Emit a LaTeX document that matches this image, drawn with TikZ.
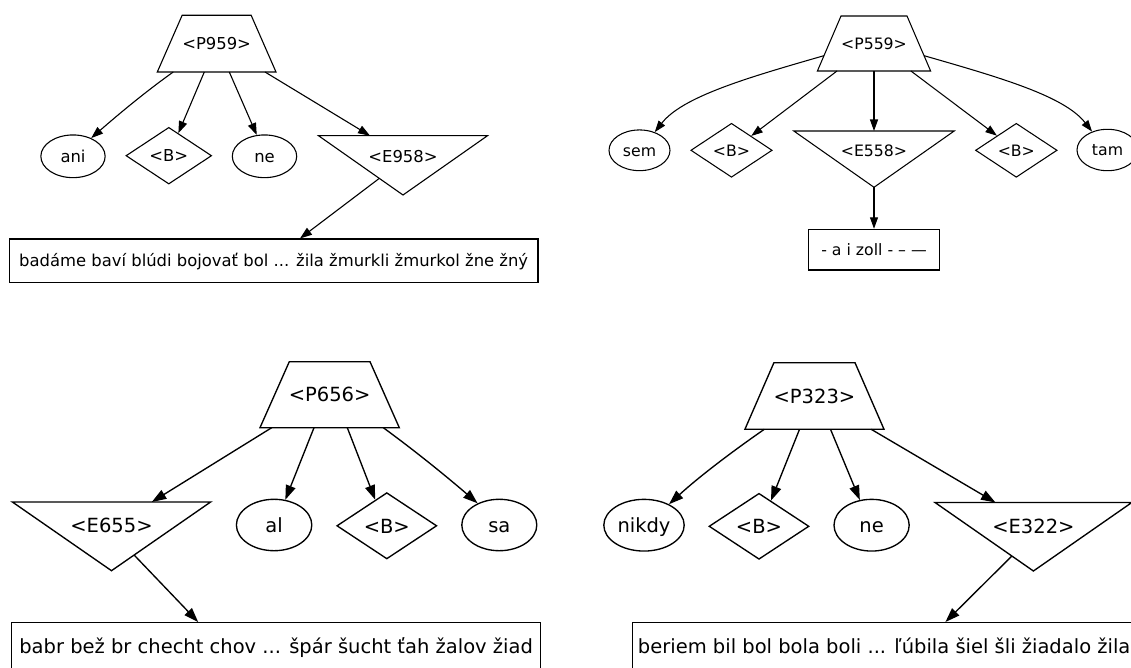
\documentclass[tikz,border=0pt]{standalone}
\usepackage{fontspec}
\setmainfont{DejaVu Sans}
\usetikzlibrary{shapes.geometric,arrows.meta}

% outline of a trapezium around a label node: node, top half width, bottom half width, rise, drop
\newcommand\trapdraw[5]{%
  \draw[outline] ([shift={(-#3,#5)}]#1.center) -- ([shift={(#3,#5)}]#1.center)
    -- ([shift={(#2,-#4)}]#1.center) -- ([shift={(-#2,-#4)}]#1.center) -- cycle;}
% outline of a downward triangle around a label node: node, half width, rise, drop to apex
\newcommand\tridraw[4]{%
  \draw[outline] ([shift={(-#2,-#3)}]#1.center) -- ([shift={(#2,-#3)}]#1.center)
    -- ([shift={(0,#4)}]#1.center) -- cycle;}

\tikzset{
  lbl/.style={inner sep=0pt, text depth=0pt},
  ell/.style={lbl, ellipse, draw},
  dia/.style={lbl, diamond, draw},
  boxn/.style={lbl, rectangle, draw},
  outline/.style={draw, line join=miter},
}

\begin{document}
\begin{tikzpicture}[x=1pt, y=-1pt]
\useasboundingbox (0,0) rectangle (1131,668);
\fill[white] (0,0) rectangle (1131,668);
\clip (0,0) rectangle (1131,668);

% ---------- P959 ----------
\begin{scope}[font=\fontsize{16.4}{19}\selectfont, line width=1.1pt,
  every node/.append style={text height=12.1pt},
  arr/.style={draw, -{Triangle[length=12pt, width=8.4pt]}}]
  \node[lbl] (P1) at (216.65,43.65) {<P959>};
  \trapdraw{P1}{34.5}{59.35}{28.35}{28.35}
  \node[ell, minimum width=64.3pt, minimum height=42.7pt] (ani) at (73,156.3) {ani};
  \node[dia, minimum width=85.7pt, minimum height=56.7pt] (B1) at (168.8,155.7) {<B>};
  \node[ell, minimum width=64.4pt, minimum height=42.7pt] (ne1) at (264.5,156.3) {ne};
  \node[lbl] (E1) at (403,156) {<E958>};
  \tridraw{E1}{84.5}{20.3}{39}
  \node[boxn, minimum width=528.7pt, minimum height=43.7pt] (T1) at (273.65,260.85)
    {badáme baví blúdi bojovať bol ... žila žmurkli žmurkol žne žný};

  \draw[arr] ([shift={(-43.4,28.35)}]P1.center) .. controls +(-28.5,20.3) and +(26.4,-23) .. (ani.45);
  \draw[arr] ([shift={(-12.35,28.35)}]P1.center) -- (B1.67);
  \draw[arr] ([shift={(12.65,28.35)}]P1.center) -- (ne1.110);
  \draw[arr] ([shift={(48.35,28.35)}]P1.center) -- ([shift={(-33,-20.3)}]E1.center);
  \draw[arr] ([shift={(-23.6,22.3)}]E1.center) -- ([xshift=26.35pt]T1.north);
\end{scope}

% ---------- P559 ----------
\begin{scope}[font=\fontsize{15.7}{18}\selectfont, line width=1.05pt,
  every node/.append style={text height=11.6pt},
  arr/.style={draw, -{Triangle[length=11.5pt, width=8pt]}}]
  \node[lbl] (P2) at (874,43.5) {<P559>};
  \trapdraw{P2}{33}{56.6}{27.5}{27.5}
  \node[ell, minimum width=61pt, minimum height=40.7pt] (sem) at (639.5,150.3) {sem};
  \node[dia, minimum width=81.4pt, minimum height=54pt] (B2) at (731.5,150.3) {<B>};
  \node[lbl] (E2) at (874,150.7) {<E558>};
  \tridraw{E2}{80.2}{19.7}{36.6}
  \node[dia, minimum width=81.6pt, minimum height=54pt] (B3) at (1016.3,150.3) {<B>};
  \node[ell, minimum width=61pt, minimum height=41.4pt] (tam) at (1107.5,150) {tam};
  \node[boxn, minimum width=131.4pt, minimum height=40.7pt] (T2) at (874,249.65) {- a i zoll - – —};

  \draw[arr] ([shift={(-50.1,12.2)}]P2.center) .. controls +(-76.9,22.1) and +(27.7,-35.5) .. (sem.50);
  \draw[arr] ([shift={(-37,27.5)}]P2.center) -- (B2.36);
  \draw[arr] ([shift={(0,27.5)}]P2.center) -- ([shift={(0,-19.7)}]E2.center);
  \draw[arr] ([shift={(0,36.6)}]E2.center) -- (T2.north);
  \draw[arr] ([shift={(36.9,27.5)}]P2.center) -- (B3.143);
  \draw[arr] ([shift={(50.1,12.2)}]P2.center) .. controls +(76.9,22.1) and +(-27.7,-35.5) .. (tam.130);
\end{scope}

% ---------- P656 ----------
\begin{scope}[font=\fontsize{19.5}{23}\selectfont, line width=1.35pt,
  every node/.append style={text height=14.4pt},
  arr/.style={draw, -{Triangle[length=14.5pt, width=10pt]}}]
  \node[lbl] (P3) at (329.65,394.7) {<P656>};
  \trapdraw{P3}{40.35}{69.65}{33}{33}
  \node[lbl] (E3) at (111.5,525.7) {<E655>};
  \tridraw{E3}{99.1}{23.7}{45}
  \node[ell, minimum width=75.4pt, minimum height=51.4pt] (al) at (274.1,525) {al};
  \node[dia, minimum width=100pt, minimum height=66.3pt] (B4) at (386.8,525.8) {<B>};
  \node[ell, minimum width=75pt, minimum height=51.4pt] (sa) at (499.3,525) {sa};
  \node[boxn, minimum width=528.6pt, minimum height=48pt] (T3) at (276.1,646.7)
    {babr bež br checht chov ... špár šucht ťah žalov žiad};

  \draw[arr] ([shift={(-57.95,33)}]P3.center) -- ([shift={(40.3,-23.7)}]E3.center);
  \draw[arr] ([shift={(-15.65,33)}]P3.center) -- (al.66);
  \draw[arr] ([shift={(17.65,33)}]P3.center) -- (B4.114);
  \draw[arr] ([shift={(53.65,33)}]P3.center) .. controls +(32.3,23.6) and +(-30.3,-26.2) .. (sa.135);
  \draw[arr] ([shift={(22.6,29.3)}]E3.center) -- ([xshift=-77.9pt]T3.north);
\end{scope}

% ---------- P323 ----------
\begin{scope}[font=\fontsize{19.5}{23}\selectfont, line width=1.35pt,
  every node/.append style={text height=14.4pt},
  arr/.style={draw, -{Triangle[length=14.5pt, width=10pt]}}]
  \node[lbl] (P4) at (814.45,396) {<P323>};
  \trapdraw{P4}{40.55}{69.55}{33.3}{33.3}
  \node[ell, minimum width=80.4pt, minimum height=51.7pt] (nikdy) at (644,525.2) {nikdy};
  \node[dia, minimum width=100pt, minimum height=66pt] (B5) at (759,526.3) {<B>};
  \node[ell, minimum width=75.2pt, minimum height=51.7pt] (ne2) at (871.6,525.2) {ne};
  \node[lbl] (E4) at (1033.4,526.7) {<E322>};
  \tridraw{E4}{98.4}{24.2}{44.3}
  \node[boxn, anchor=west, inner xsep=5.2pt, minimum height=48pt] (T4) at (632.1,646.7)
    {\makebox[498pt][l]{beriem bil bol bola boli ... ľúbila šiel šli žiadalo žila}};

  \draw[arr] ([shift={(-50.15,33.3)}]P4.center) .. controls +(-32.9,22.8) and +(29.5,-27) .. (nikdy.40);
  \draw[arr] ([shift={(-14.95,33.3)}]P4.center) -- (B5.65);
  \draw[arr] ([shift={(16.05,33.3)}]P4.center) -- (ne2.115);
  \draw[arr] ([shift={(56.75,33.3)}]P4.center) -- ([shift={(-37.9,-24.2)}]E4.center);
  \draw[arr] ([shift={(-21.5,29.3)}]E4.center) -- ([xshift=313.3pt]T4.north west);
\end{scope}
\end{tikzpicture}
\end{document}
